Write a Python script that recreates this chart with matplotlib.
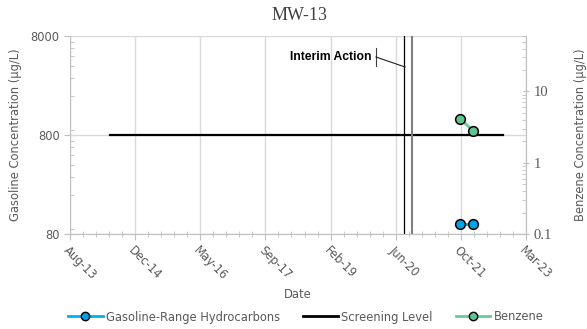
import datetime as dt
import matplotlib
matplotlib.use("Agg")
import matplotlib.pyplot as plt
import matplotlib.dates as mdates
from matplotlib.ticker import LogLocator, FixedLocator, NullFormatter, FuncFormatter
from matplotlib.lines import Line2D

# data
sample_dates = [dt.datetime(2021, 10, 28), dt.datetime(2022, 2, 2)]
gasoline = [100, 100]
benzene = [4.1, 2.8]
screen_dates = [dt.datetime(2014, 6, 16), dt.datetime(2022, 9, 19)]
screen_level = [800, 800]
interim_dates = [dt.datetime(2020, 8, 20), dt.datetime(2020, 10, 18)]
tick_labels = ["Aug-13", "Dec-14", "May-16", "Sep-17", "Feb-19", "Jun-20", "Oct-21", "Mar-23"]

GRAY = "#595959"
AX_GRAY = "#BFBFBF"

x0 = mdates.date2num(dt.datetime(2013, 8, 14))
major = [x0 + 500 * i for i in range(len(tick_labels))]
minor = [x0 + 100 * i for i in range(36)]

fig = plt.figure(figsize=(5.87, 3.29), dpi=100)
ax = fig.add_axes([70 / 587, 1 - 234 / 329, 456 / 587, 198 / 329])
ax2 = ax.twinx()

ax.set_yscale("log")
ax.set_ylim(80, 8000)
ax.set_xlim(major[0], major[-1])
ax.yaxis.set_major_locator(FixedLocator([80, 800, 8000]))
ax.yaxis.set_major_formatter(FuncFormatter(lambda v, p: "%d" % round(v)))
ax.yaxis.set_minor_locator(LogLocator(base=10, subs=[2, 3, 4, 5, 6, 7, 8, 9]))
ax.yaxis.set_minor_formatter(NullFormatter())
ax.xaxis.set_major_locator(FixedLocator(major))
ax.xaxis.set_minor_locator(FixedLocator(minor))
ax.set_xticklabels(tick_labels, rotation=-45, ha="left", rotation_mode="anchor")

ax.grid(True, which="major", color="#D9D9D9", lw=1)
ax.set_axisbelow(True)

for sp in ["top", "right"]:
    ax.spines[sp].set_visible(False)
for sp in ["left", "bottom"]:
    ax.spines[sp].set_color(AX_GRAY)
ax2.spines["top"].set_visible(False)
ax2.spines["left"].set_visible(False)
ax2.spines["bottom"].set_visible(False)
ax2.spines["right"].set_color(AX_GRAY)

ax.tick_params(axis="both", which="major", colors=AX_GRAY, labelcolor=GRAY, labelsize=8.3, length=4)
ax.tick_params(axis="x", which="major", direction="out", pad=3)
ax.tick_params(axis="x", which="minor", direction="inout", colors=AX_GRAY, length=5)
ax.tick_params(axis="y", which="minor", direction="in", colors=AX_GRAY, length=3)

ax.plot(screen_dates, screen_level, color="black", lw=1.6, zorder=3)
ax.axvline(interim_dates[0], color="black", lw=0.9, zorder=3)
ax.axvline(interim_dates[1], color="#7F7F7F", lw=1.5, zorder=3)
ax.plot(sample_dates, gasoline, color="#00B0F0", lw=2, marker="o", ms=7,
        mfc="#00A2E8", mec="black", mew=1.1, zorder=4)

ax2.set_yscale("log")
ax2.set_ylim(0.1, 60)
ax2.yaxis.set_major_locator(FixedLocator([0.1, 1, 10]))
ax2.yaxis.set_major_formatter(FuncFormatter(lambda v, p: "%g" % v))
ax2.yaxis.set_minor_locator(LogLocator(base=10, subs=[2, 3, 4, 5, 6, 7, 8, 9]))
ax2.yaxis.set_minor_formatter(NullFormatter())
ax2.tick_params(axis="y", which="major", colors=AX_GRAY, labelcolor=GRAY, length=4, direction="inout")
ax2.tick_params(axis="y", which="minor", colors=AX_GRAY, length=3, direction="in")
for lb in ax2.get_yticklabels():
    lb.set_fontfamily("Liberation Serif")
    lb.set_fontsize(10.5)
ax2.plot(sample_dates, benzene, color="#66CC99", lw=2, marker="o", ms=7,
         mfc="#5EC490", mec="black", mew=1.1, zorder=4)

# interim action callout
fig.text(372 / 587, 1 - 57 / 329, "Interim Action", ha="right", va="center",
         fontsize=8.7, fontweight="bold", fontfamily="Liberation Sans")
fig.add_artist(Line2D([376 / 587, 376 / 587], [1 - 48 / 329, 1 - 66 / 329], color="#404040", lw=0.8))
fig.add_artist(Line2D([376 / 587, 405 / 587], [1 - 57 / 329, 1 - 67 / 329], color="#202020", lw=0.8))

fig.text(300 / 587, 1 - 16 / 329, "MW-13", ha="center", va="center",
         fontsize=13, fontfamily="Liberation Serif", color="#404040")
ax.set_xlabel("Date", color=GRAY, fontsize=8.3, labelpad=4)
ax.set_ylabel("Gasoline Concentration (µg/L)", color=GRAY, fontsize=8.3, labelpad=6)
ax2.set_ylabel("Benzene Concentration (µg/L)", color=GRAY, fontsize=8.3, labelpad=16)

handles = [
    Line2D([], [], color="#00B0F0", lw=2, marker="o", ms=6, mfc="#00A2E8", mec="black"),
    Line2D([], [], color="black", lw=2),
    Line2D([], [], color="#66CC99", lw=2, marker="o", ms=6, mfc="#5EC490", mec="black"),
]
leg = fig.legend(handles, ["Gasoline-Range Hydrocarbons", "Screening Level", "Benzene"],
                 loc="center", bbox_to_anchor=(306 / 587, 1 - 317 / 329), ncol=3,
                 frameon=False, fontsize=8.3, handlelength=3.0, columnspacing=2.0, handletextpad=0.3)
for t in leg.get_texts():
    t.set_color(GRAY)

fig.savefig("out.png", dpi=100)
